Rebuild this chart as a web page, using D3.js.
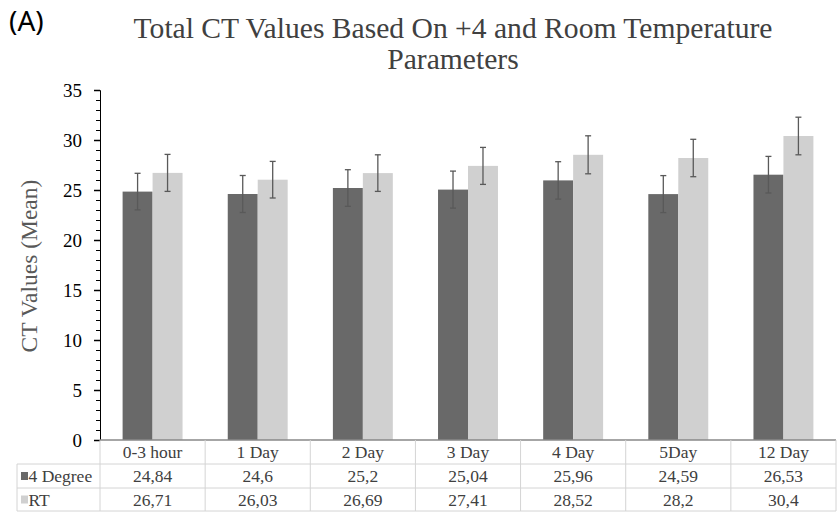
<!DOCTYPE html>
<html><head><meta charset="utf-8">
<script src="https://cdn.jsdelivr.net/npm/d3@7"></script>
<style>body{margin:0;background:#fff}svg{display:block}
.serif{font-family:"Liberation Serif","Tinos","Times New Roman","DejaVu Serif",serif}</style>
</head><body>
<script>
const categories = ["0-3 hour","1 Day","2 Day","3 Day","4 Day","5Day","12 Day"];
const seriesNames = ["4 Degree","RT"];
const degree4 = [24.84,24.6,25.2,25.04,25.96,24.59,26.53];
const rt = [26.71,26.03,26.69,27.41,28.52,28.2,30.4];
const degree4Err = [1.83,1.85,1.83,1.85,1.87,1.85,1.83];
const rtErr = [1.85,1.83,1.83,1.85,1.9,1.87,1.88];
const degree4Labels = ["24,84","24,6","25,2","25,04","25,96","24,59","26,53"];
const rtLabels = ["26,71","26,03","26,69","27,41","28,52","28,2","30,4"];
const yTicks = [0,5,10,15,20,25,30,35];
const colors = ["#696969","#d0d0d0"];

(function(){
const W=840,H=513;
const pL=100,pR=836,pT=90,pB=440;
const svg=d3.select("body").append("svg").attr("width",W).attr("height",H);

const y=d3.scaleLinear().domain([0,35]).range([pB,pT]);
const x=d3.scaleBand().domain(categories).range([pL,pR]).paddingInner(0.43).paddingOuter(0.215);
const xs=d3.scaleBand().domain(seriesNames).range([0,x.bandwidth()]);

// panel letter and title
svg.append("text").attr("x",9).attr("y",31).style("font-family","'Noto Sans','Open Sans',sans-serif")
  .attr("font-size",28).attr("fill","#000").text("(A)");
const title=svg.append("text").attr("class","serif").attr("text-anchor","middle").attr("font-size",29.6).attr("fill","#404040");
title.append("tspan").attr("x",453).attr("y",38).text("Total CT Values Based On +4 and Room Temperature");
title.append("tspan").attr("x",453).attr("y",69).text("Parameters");

// y axis with minor ticks
const minor=d3.range(0,36,1);
svg.append("g").attr("transform",`translate(${pL},0)`)
  .call(d3.axisLeft(y).tickValues(minor).tickSize(4).tickFormat(""))
  .call(g=>{g.select(".domain").attr("stroke","#000").attr("stroke-width",1);g.selectAll(".tick line").attr("stroke","#000");});
const ya=svg.append("g").attr("transform",`translate(${pL},0)`)
  .call(d3.axisLeft(y).tickValues(yTicks).tickSize(6).tickPadding(12).tickFormat(d3.format("d")));
ya.select(".domain").remove();
ya.attr("font-family",null);
ya.selectAll(".tick line").attr("stroke","#000").attr("stroke-width",1.5);
ya.selectAll(".tick text").attr("class","serif").attr("font-size",19).attr("fill","#000");

svg.append("text").attr("class","serif").attr("transform",`translate(37,266) rotate(-90)`).attr("text-anchor","middle")
  .attr("font-size",23.5).attr("fill","#595959").text("CT Values (Mean)");

// bars and error bars
const series=[degree4,rt], errs=[degree4Err,rtErr];
seriesNames.forEach((s,si)=>{
  svg.append("g").selectAll("rect").data(categories).join("rect")
    .attr("x",(c)=>x(c)+xs(s)).attr("width",xs.bandwidth())
    .attr("y",(c,i)=>y(series[si][i])).attr("height",(c,i)=>y(0)-y(series[si][i]))
    .attr("fill",colors[si]);
  const eg=svg.append("g").attr("stroke","#595959").attr("stroke-width",1.3);
  categories.forEach((c,i)=>{
    const cx=x(c)+xs(s)+xs.bandwidth()/2, v=series[si][i], e=errs[si][i];
    eg.append("line").attr("x1",cx).attr("x2",cx).attr("y1",y(v+e)).attr("y2",y(v-e));
    eg.append("line").attr("x1",cx-3).attr("x2",cx+3).attr("y1",y(v+e)).attr("y2",y(v+e));
    eg.append("line").attr("x1",cx-3).attr("x2",cx+3).attr("y1",y(v-e)).attr("y2",y(v-e));
  });
});

// x axis line
svg.append("line").attr("x1",pL).attr("x2",pR).attr("y1",pB).attr("y2",pB).attr("stroke","#888").attr("stroke-width",1.5);

// data table
const rowY=[440,464,488,511];
const tbl=svg.append("g").attr("stroke","#d4d4d4").attr("stroke-width",1);
[1,2,3].forEach(r=>tbl.append("line").attr("x1",17).attr("x2",pR).attr("y1",rowY[r]).attr("y2",rowY[r]));
tbl.append("line").attr("x1",17).attr("x2",17).attr("y1",rowY[1]).attr("y2",rowY[3]);
const bounds=categories.map(c=>x(c)-x.step()*x.paddingOuter()).concat([pR]);
bounds.forEach(b=>tbl.append("line").attr("x1",b).attr("x2",b).attr("y1",rowY[0]).attr("y2",rowY[3]));

const tx=svg.append("g").attr("class","serif").attr("font-size",17.5).attr("fill","#404040").attr("text-anchor","middle");
categories.forEach((c,i)=>{
  const cx=x(c)+x.bandwidth()/2;
  tx.append("text").attr("x",cx).attr("y",458).text(c);
  tx.append("text").attr("x",cx).attr("y",482).text(degree4Labels[i]);
  tx.append("text").attr("x",cx).attr("y",506).text(rtLabels[i]);
});
seriesNames.forEach((s,si)=>{
  const cy=(rowY[si+1]+rowY[si+2])/2;
  svg.append("rect").attr("x",21).attr("y",cy-4).attr("width",7).attr("height",8).attr("fill",colors[si]);
  svg.append("text").attr("class","serif").attr("x",28.5).attr("y",cy+6).attr("font-size",17.5).attr("fill","#404040").text(s);
});
})();
</script>
</body></html>
